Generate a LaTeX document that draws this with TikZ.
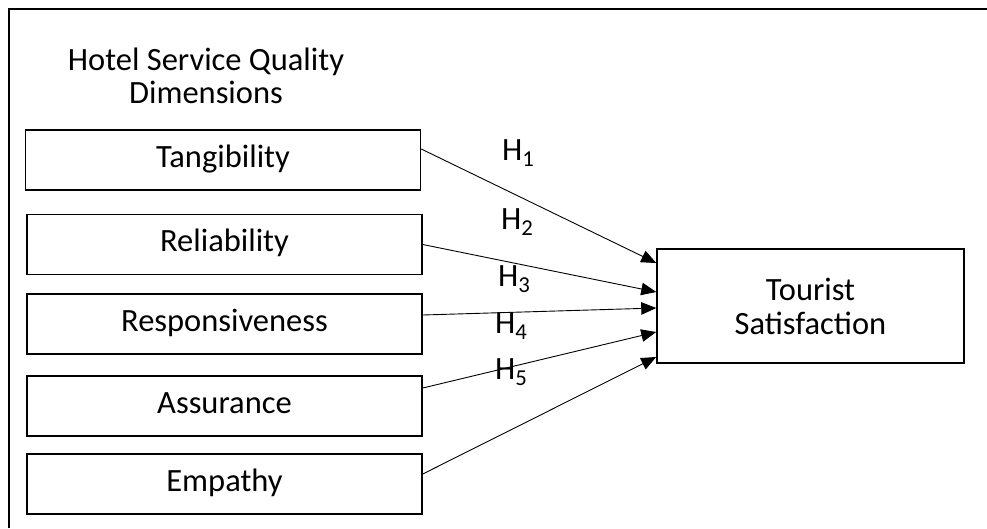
\documentclass[tikz,border=0pt]{standalone}
\usepackage{fontspec}
\setmainfont{Carlito}
\usetikzlibrary{arrows.meta}
\begin{document}
\begin{tikzpicture}[x=1pt,y=-1pt,
  every node/.style={font=\fontsize{32.5}{34}\selectfont},
  dimbox/.style={draw, line width=1.5pt, minimum width=395pt, minimum height=60pt, inner sep=0pt, text height=21pt, text depth=7pt},
  outbox/.style={draw, line width=1.5pt, minimum width=307pt, minimum height=114pt, inner sep=0pt, align=center},
  arr/.style={line width=0.9pt, -{Triangle[length=15pt,width=12.5pt]}},
  hlab/.style={anchor=base west, inner sep=0pt},
  frameline/.style={line width=1.5pt}]
\useasboundingbox (0,0) rectangle (987,528);
\draw[frameline] (9,528) -- (9,9) -- (987,9);
\node[align=center, font=\fontsize{32.5}{33}\selectfont] (title) at (206,76) {Hotel Service Quality\\Dimensions};
\node[dimbox] (tang) at (223,160) {Tangibility};
\node[dimbox] (rel) at (224.5,244.5) {Reliability};
\node[dimbox] (resp) at (224.5,324) {Responsiveness};
\node[dimbox] (assu) at (224.5,406) {Assurance};
\node[dimbox] (emp) at (224.5,484) {Empathy};
\node[outbox] (ts) at (810.5,306) {Tourist\\Satisfaction};
\draw[arr] ([yshift=11pt]tang.east) -- ([yshift=43pt]ts.west);
\draw[arr] (rel.east) -- ([yshift=14pt]ts.west);
\draw[arr] ([yshift=9pt]resp.east) -- ([yshift=-2pt]ts.west);
\draw[arr] ([yshift=18pt]assu.east) -- ([yshift=-26pt]ts.west);
\draw[arr] ([yshift=10pt]emp.east) -- ([yshift=-51pt]ts.west);
\node[hlab] (h1) at (502,160) {H\textsubscript{1}};
\node[hlab] (h2) at (501,229) {H\textsubscript{2}};
\node[hlab] (h3) at (498,286) {H\textsubscript{3}};
\node[hlab] (h4) at (495,333) {H\textsubscript{4}};
\node[hlab] (h5) at (495,379) {H\textsubscript{5}};
\end{tikzpicture}
\end{document}
